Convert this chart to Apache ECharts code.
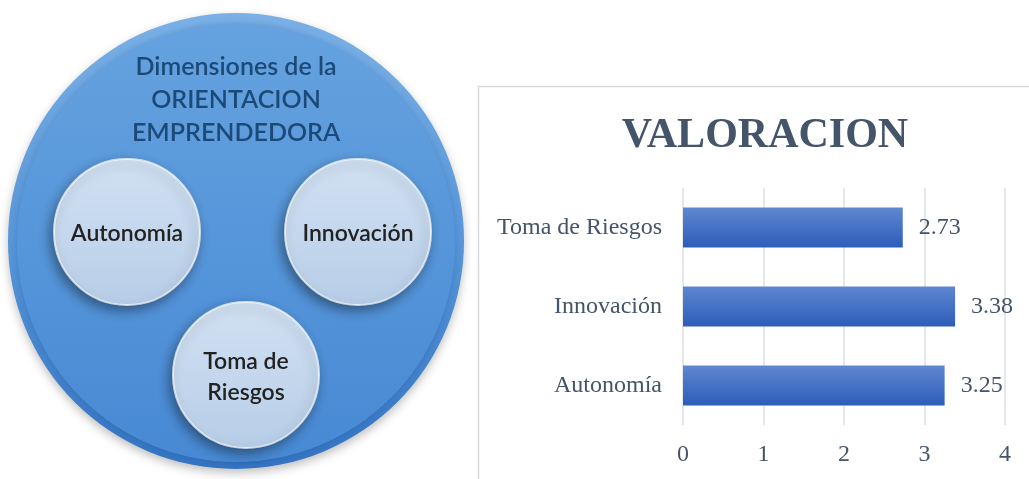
<!DOCTYPE html>
<html>
<head>
<meta charset="utf-8">
<script src="https://cdn.jsdelivr.net/npm/echarts@6/dist/echarts.min.js"></script>
<style>
html,body{margin:0;padding:0;background:#fff;}
#c{width:1029px;height:479px;}
</style>
</head>
<body>
<div id="c"></div>
<script>
// ---- data ----
const categories = ['Autonomía', 'Innovación', 'Toma de Riesgos'];
const values = [3.25, 3.38, 2.73];
const axisMin = 0;
const axisMax = 4;
const axisInterval = 1;
const chartTitle = 'VALORACION';
const diagramTitleLines = ['Dimensiones de la', 'ORIENTACION', 'EMPRENDEDORA'];
const diagramLabels = ['Autonomía', 'Innovación', 'Toma de\nRiesgos'];

// ---- diagram (decorative left panel) ----
const bigC = {cx: 236, cy: 241, r: 228};
const smallCs = [
  {cx: 127, cy: 232, r: 73},
  {cx: 358, cy: 232, r: 73},
  {cx: 246, cy: 375, r: 73}
];

const graphics = [];
graphics.push({
  type: 'rect', z: -10, silent: true,
  shape: {x: 478.5, y: 86.5, width: 700, height: 500},
  style: {fill: '#ffffff', stroke: '#D9D9D9', lineWidth: 1.5}
});
graphics.push({
  type: 'circle', z: 1, silent: true,
  shape: {cx: bigC.cx, cy: bigC.cy, r: bigC.r},
  style: {
    fill: new echarts.graphic.LinearGradient(0, 0, 0, 1, [
      {offset: 0, color: '#7AB0E6'},
      {offset: 0.5, color: '#5796D9'},
      {offset: 1, color: '#3373C1'}
    ]),
    shadowBlur: 10, shadowColor: 'rgba(0,0,0,0.25)', shadowOffsetY: 4
  }
});
graphics.push({
  type: 'circle', z: 2, silent: true,
  shape: {cx: bigC.cx, cy: bigC.cy + 2, r: bigC.r - 9},
  style: {
    fill: new echarts.graphic.LinearGradient(0, 0, 0, 1, [
      {offset: 0, color: '#65A2DF'},
      {offset: 1, color: '#4789D4'}
    ]),
    shadowBlur: 6, shadowColor: 'rgba(20,60,120,0.25)'
  }
});
smallCs.forEach((c, i) => {
  graphics.push({
    type: 'circle', z: 3, silent: true,
    shape: {cx: c.cx, cy: c.cy, r: c.r},
    style: {
      fill: new echarts.graphic.LinearGradient(0, 0, 0, 1, [
        {offset: 0, color: '#D1E1F3'},
        {offset: 1, color: '#B7CDE7'}
      ]),
      stroke: 'rgba(255,255,255,0.7)', lineWidth: 2,
      shadowBlur: 12, shadowColor: 'rgba(0,0,0,0.4)', shadowOffsetX: -3, shadowOffsetY: 5
    }
  });
  graphics.push({
    type: 'text', z: 4, silent: true,
    style: {
      text: diagramLabels[i], x: c.cx, y: c.cy + 2,
      textAlign: 'center', textVerticalAlign: 'middle', verticalAlign: 'middle',
      fill: '#222222', font: '600 23px Lato', lineHeight: 31,
      shadowBlur: 2, shadowColor: 'rgba(0,0,0,0.35)'
    }
  });
});
diagramTitleLines.forEach((t, i) => {
  graphics.push({
    type: 'text', z: 4, silent: true,
    style: {
      text: t, x: 236, y: 67 + i * 33,
      textAlign: 'center', textVerticalAlign: 'middle', verticalAlign: 'middle',
      fill: '#1C4A78', font: '600 25px Lato',
      shadowBlur: 4, shadowColor: 'rgba(20,50,90,0.7)'
    }
  });
});

const chart = echarts.init(document.getElementById('c'), null, {renderer: 'canvas'});
chart.setOption({
  animation: false,
  backgroundColor: '#ffffff',
  title: {
    text: chartTitle,
    left: 760, top: 110, textAlign: 'center',
    textStyle: {fontFamily: 'Liberation Serif', fontWeight: 'bold', fontSize: 42, color: '#44546A'}
  },
  graphic: graphics,
  grid: {left: 683, right: 24, top: 188, bottom: 54, containLabel: false},
  xAxis: {
    type: 'value', min: axisMin, max: axisMax, interval: axisInterval,
    axisLine: {show: false}, axisTick: {show: false},
    splitLine: {show: true, lineStyle: {color: '#DCDFE4', width: 1.5}},
    axisLabel: {fontFamily: 'Liberation Serif', fontSize: 24, color: '#44546A', margin: 18}
  },
  yAxis: {
    type: 'category', data: categories,
    axisLine: {show: false}, axisTick: {show: false},
    axisLabel: {fontFamily: 'Liberation Serif', fontSize: 24, color: '#44546A', margin: 21}
  },
  series: [{
    type: 'bar', data: values, barWidth: 40,
    itemStyle: {
      color: new echarts.graphic.LinearGradient(0, 0, 0, 1, [
        {offset: 0, color: '#5F87D1'},
        {offset: 1, color: '#2D5DB9'}
      ])
    },
    label: {
      show: true, position: 'right', distance: 16,
      fontFamily: 'Liberation Serif', fontSize: 24, color: '#44546A',
      formatter: p => p.value.toFixed(2)
    }
  }]
});
</script>
</body>
</html>
